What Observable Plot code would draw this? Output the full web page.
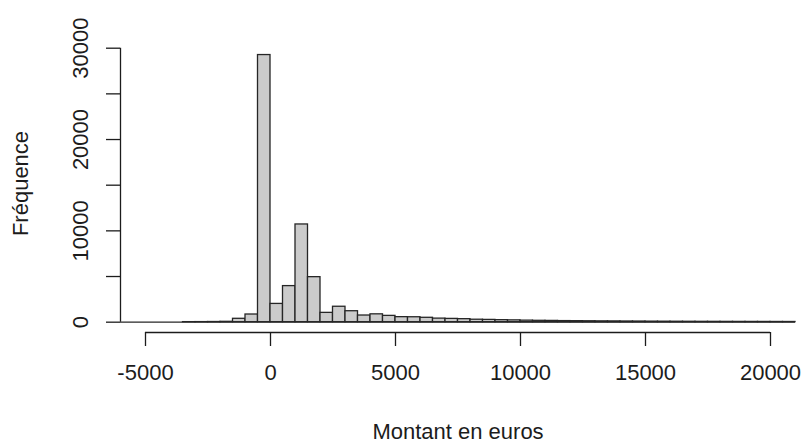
<!DOCTYPE html>
<html>
<head>
<meta charset="utf-8">
<script src="https://cdn.jsdelivr.net/npm/d3@7"></script>
<script src="https://cdn.jsdelivr.net/npm/@observablehq/plot@0.6"></script>
<style>
  body { margin: 0; background: #ffffff; }
  #chart svg { display: block; }
</style>
</head>
<body>
<div id="chart"></div>
<script>
// Histogram of amounts: 500-euro bins starting at -6000
const binStart = -6000;
const binWidth = 500;
const counts = [
  0, 0, 0, 0, 0, 5, 10, 20, 40, 370, 840, 29250, 2000, 3950, 10700, 4930,
  1020, 1690, 1200, 730, 860, 690, 550, 540, 480, 390, 360, 330, 270, 250, 220, 200,
  170, 150, 140, 120, 110, 100, 90, 85, 75, 70, 60, 55, 50, 45, 40, 38, 35, 32, 30, 28, 25, 22
];

// Axis ticks and labels
const xTicks = [-5000, 0, 5000, 10000, 15000, 20000];
const yTicks = [0, 5000, 10000, 15000, 20000, 25000, 30000];
const yLabels = [0, 10000, 20000, 30000];
const xTitle = "Montant en euros";
const yTitle = "Fréquence";

const bins = counts.map((n, i) => ({
  x1: binStart + i * binWidth,
  x2: binStart + (i + 1) * binWidth,
  n
}));

const xDomain = [binStart, binStart + counts.length * binWidth];
const yDomain = [-1130, 30405];
const font = "'Liberation Sans', Arial, Helvetica, sans-serif";
const ink = "#1c1c1c";

const chart = Plot.plot({
  width: 804,
  height: 442,
  marginLeft: 120,
  marginRight: 9,
  marginTop: 44,
  marginBottom: 110,
  x: { domain: xDomain, axis: null },
  y: { domain: yDomain, axis: null },
  style: { fontFamily: font, fontSize: "22px", background: "#ffffff", color: ink },
  marks: [
    // bars (empty bins collapse onto the baseline below)
    Plot.rectY(bins, {
      x1: "x1", x2: "x2", y1: 0, y2: "n",
      fill: "#cbcbcb", stroke: "#262626", strokeWidth: 1.3
    }),
    Plot.ruleY([0], { x1: xDomain[0], x2: xDomain[1], stroke: "#262626", strokeWidth: 1.3 }),
    // x axis: line from first to last tick, ticks and labels
    Plot.ruleY([yDomain[0]], {
      x1: xTicks[0], x2: xTicks[xTicks.length - 1], stroke: ink, strokeWidth: 1.3
    }),
    Plot.axisX(xTicks, {
      anchor: "bottom", tickSize: 14, tickPadding: 18, strokeWidth: 1.3,
      tickFormat: d => String(d), fontSize: 22, label: null, fill: ink
    }),
    // y axis: line, ticks, rotated labels
    Plot.ruleX([binStart], {
      y1: yTicks[0], y2: yTicks[yTicks.length - 1], stroke: ink, strokeWidth: 1.3
    }),
    Plot.axisY(yTicks, {
      anchor: "left", tickSize: 14, strokeWidth: 1.3, tickFormat: () => "", label: null
    }),
    Plot.text(yLabels, {
      y: d => d, text: d => String(d), frameAnchor: "left", dx: -33,
      rotate: -90, textAnchor: "middle", lineAnchor: "bottom", fontSize: 22, fill: ink
    }),
    // axis titles
    Plot.text([xTitle], {
      frameAnchor: "bottom", dy: 106, textAnchor: "middle", lineAnchor: "bottom",
      fontSize: 22, fill: ink
    }),
    Plot.text([yTitle], {
      frameAnchor: "left", dx: -93, dy: -5, rotate: -90, textAnchor: "middle",
      lineAnchor: "bottom", fontSize: 22, fill: ink
    })
  ]
});

document.getElementById("chart").appendChild(chart);
</script>
</body>
</html>
